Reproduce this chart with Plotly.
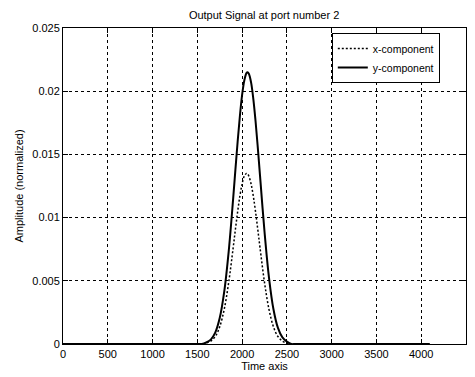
import plotly.graph_objects as go

time_axis = [0, 1500, 1550, 1600, 1650, 1700, 1750, 1800, 1850, 1900, 1925, 1950, 1975, 2000,
             2025, 2050, 2060, 2075, 2100, 2125, 2150, 2175, 2200, 2250, 2300, 2350,
             2400, 2450, 2500, 2550, 2600, 4096]
x_component = [0, 0, 0, 0.00008, 0.00023, 0.00059, 0.00136, 0.00274, 0.00487, 0.00761,
               0.00906, 0.01046, 0.0117, 0.01266, 0.01329, 0.0135, 0.01347, 0.01329,
               0.01266, 0.0117, 0.01046, 0.00906, 0.00761, 0.00487, 0.00274,
               0.00136, 0.00059, 0.00023, 0.00008, 0, 0, 0]
y_component = [0, 0, 0, 0.00012, 0.00035, 0.0009, 0.00205, 0.00412, 0.00731, 0.0115,
               0.01377, 0.016, 0.01802, 0.0197, 0.02087, 0.02145, 0.0215, 0.02138,
               0.0207, 0.01939, 0.01764, 0.01556, 0.01332, 0.0089, 0.00526,
               0.00275, 0.00127, 0.00052, 0.00019, 0, 0, 0]
x_ticks = [0, 500, 1000, 1500, 2000, 2500, 3000, 3500, 4000, 4500]
y_ticks = [0, 0.005, 0.01, 0.015, 0.02, 0.025]
y_tick_labels = ["0", "0.005", "0.01", "0.015", "0.02", "0.025"]

fig = go.Figure()
fig.add_trace(go.Scatter(x=time_axis, y=x_component, mode="lines", name="x-component",
                         line=dict(color="black", width=1.5, dash="2px,2px", shape="spline")))
fig.add_trace(go.Scatter(x=time_axis, y=y_component, mode="lines", name="y-component",
                         line=dict(color="black", width=2, shape="spline")))

font = dict(family="Liberation Sans, Arial, sans-serif", size=11, color="black")
axis_common = dict(showline=True, linecolor="black", linewidth=1, mirror="ticks",
                   ticks="inside", ticklen=5, tickcolor="black", showgrid=True,
                   gridcolor="black", gridwidth=1, griddash="3px,3px", zeroline=False,
                   tickfont=font, automargin=False)

fig.update_layout(
    width=475, height=377,
    margin=dict(l=63, r=9, t=28, b=33),
    paper_bgcolor="white", plot_bgcolor="white",
    font=font,
    title=dict(text="Output Signal at port number 2", x=0.556, xanchor="center",
               y=0.96, yanchor="middle", font=font, automargin=False),
    showlegend=True,
    legend=dict(x=0.667, y=0.984, xanchor="left", yanchor="top", bgcolor="white",
                bordercolor="black", borderwidth=1,
                font=dict(family="Liberation Sans, Arial, sans-serif", size=10.5, color="black"),
                tracegroupgap=0, itemwidth=30),
)
fig.update_xaxes(range=[0, 4500], tickvals=x_ticks,
                 title=dict(text="Time axis", font=font, standoff=2), **axis_common)
fig.update_yaxes(range=[0, 0.025], tickvals=y_ticks, ticktext=y_tick_labels,
                 title=dict(text="Amplitude (normalized)", font=font, standoff=6), **axis_common)

fig.write_html("out.html", config={"displayModeBar": False},
               post_script="document.body.style.margin='0';document.body.style.overflow='hidden';")
